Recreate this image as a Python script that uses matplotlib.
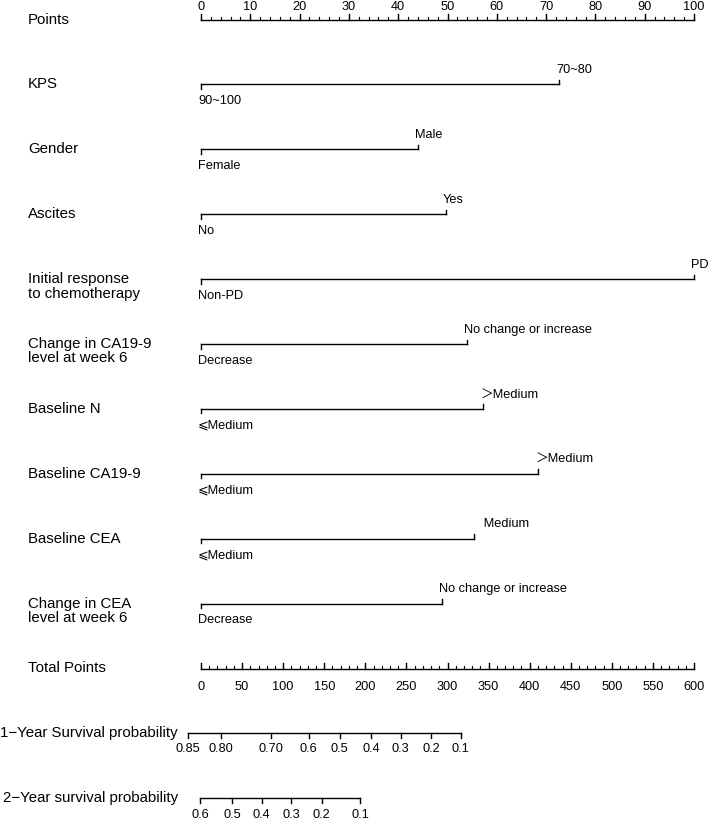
import matplotlib
matplotlib.use("Agg")
import matplotlib.pyplot as plt
import numpy as np

plt.rcParams['font.family'] = ['Liberation Sans', 'Noto Sans CJK SC', 'DejaVu Sans']

# nomogram data (points for the upper level; lower level is always 0)
variables = ["KPS", "Gender", "Ascites", "Initial response\nto chemotherapy",
             "Change in CA19-9\nlevel at week 6", "Baseline N", "Baseline CA19-9",
             "Baseline CEA", "Change in CEA\nlevel at week 6"]
low_levels = ["90~100", "Female", "No", "Non-PD", "Decrease",
              "\u2a7dMedium", "\u2a7dMedium", "\u2a7dMedium", "Decrease"]
high_levels = ["70~80", "Male", "Yes", "PD", "No change or increase",
               "\uff1eMedium", "\uff1eMedium", "\u3000Medium", "No change or increase"]
high_points = [72.6, 44.0, 49.7, 100, 54.0, 57.2, 68.4, 55.4, 48.9]

max_points = 100
max_total = 600

surv1_labels = ["0.85", "0.80", "0.70", "0.6", "0.5", "0.4", "0.3", "0.2", "0.1"]
surv1_total = [-16, 24, 85, 131, 169, 207, 243, 280, 316]
surv2_labels = ["0.6", "0.5", "0.4", "0.3", "0.2", "0.1"]
surv2_total = [-1, 38, 74, 110, 147, 194]

# layout (y in pixels from top)
W, H = 709, 819
row_y = [19.5 + 64.9 * i for i in range(11)]
surv1_y = 733
surv2_y = 798
px_per_pt = 4.93
x0_px = 201
label_x = (28 - x0_px) / px_per_pt

fig = plt.figure(figsize=(W / 100, H / 100), dpi=100)
ax = fig.add_axes([0, 0, 1, 1])
ax.set_xlim((0 - x0_px) / px_per_pt, (W - x0_px) / px_per_pt)
ax.set_ylim(H, 0)
ax.axis('off')

lw = 1.0
FS_NAME = 10.8
FS_LVL = 9.2
FS_TICK = 9.2


def row_label(text, y):
    for k, line in enumerate(text.split("\n")):
        ax.text(label_x, y + k * 14.5, line, ha='left', va='center', fontsize=FS_NAME)


def scale_axis(y, major, minor, labels, up=True, label_dy=-13):
    ax.plot([major[0], major[-1]], [y, y], color='black', lw=lw)
    s = -1 if up else 1
    for m in minor:
        ax.plot([m, m], [y, y + s * 3], color='black', lw=lw * 0.8)
    for m, lab in zip(major, labels):
        ax.plot([m, m], [y, y + s * 5.5], color='black', lw=lw)
        ax.text(m, y + label_dy, lab, ha='center', va='center', fontsize=FS_TICK)


# Points
row_label("Points", row_y[0])
pts_major = np.arange(0, max_points + 1, 10)
pts_minor = np.arange(0, max_points + 1, 2)
scale_axis(row_y[0], pts_major, pts_minor, [str(v) for v in pts_major], up=True, label_dy=-12)

# variables
for i, (name, lo, hi, p) in enumerate(zip(variables, low_levels, high_levels, high_points)):
    y = row_y[i + 1]
    row_label(name, y)
    ax.plot([0, p], [y, y], color='black', lw=lw)
    ax.plot([0, 0], [y, y + 4.5], color='black', lw=lw)
    ax.plot([p, p], [y, y - 4.5], color='black', lw=lw)
    ax.text(-0.6, y + 16.5, lo, ha='left', va='center', fontsize=FS_LVL)
    ax.text(p - 0.6, y - 14.5, hi, ha='left', va='center', fontsize=FS_LVL)

# Total points
yt = row_y[10]
row_label("Total Points", yt)
tot_major = np.arange(0, max_total + 1, 50)
tot_minor = np.arange(0, max_total + 1, 10)
to_pts = max_points / max_total
scale_axis(yt, tot_major * to_pts, tot_minor * to_pts, [str(v) for v in tot_major], up=True, label_dy=18)

# survival probability axes
surv_x_right = (178 - x0_px) / px_per_pt
for name, y, labs, tot in [("1\u2212Year Survival probability", surv1_y, surv1_labels, surv1_total),
                           ("2\u2212Year survival probability", surv2_y, surv2_labels, surv2_total)]:
    ax.text(surv_x_right, y, name, ha='right', va='center', fontsize=FS_NAME)
    xs = np.array(tot) * to_pts
    ax.plot([xs[0], xs[-1]], [y, y], color='black', lw=lw)
    for xv, lab in zip(xs, labs):
        ax.plot([xv, xv], [y, y + 5], color='black', lw=lw)
        ax.text(xv, y + 16.5, lab, ha='center', va='center', fontsize=FS_TICK)

fig.savefig("out.png", dpi=100)
